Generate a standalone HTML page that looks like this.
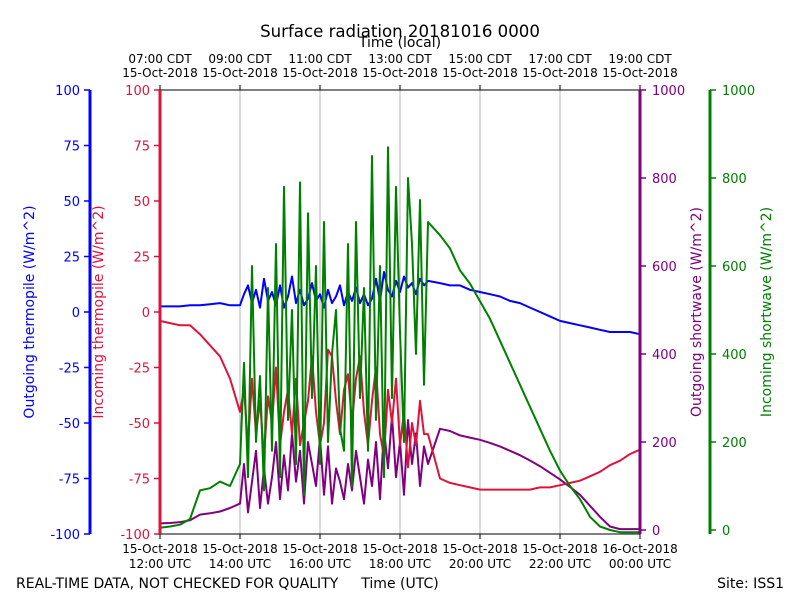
<!DOCTYPE html>
<html><head><meta charset="utf-8"><style>
body{margin:0;background:#fff}
svg{font-family:"DejaVu Sans","Liberation Sans",sans-serif}
</style></head><body>
<svg id="c" width="800" height="600" xmlns="http://www.w3.org/2000/svg">
<text x="400" y="37" font-size="16.6" text-anchor="middle">Surface radiation 20181016 0000</text>
<text x="400" y="47" font-size="14" text-anchor="middle">Time (local)</text>
<text x="16" y="588" font-size="14">REAL-TIME DATA, NOT CHECKED FOR QUALITY</text>
<text x="400" y="588" font-size="14" text-anchor="middle">Time (UTC)</text>
<text x="784" y="588" font-size="14" text-anchor="end">Site: ISS1</text>
<text transform="translate(34,312) rotate(-90)" font-size="14" fill="#0000ff" text-anchor="middle">Outgoing thermopile (W/m^2)</text>
<text transform="translate(103,312) rotate(-90)" font-size="14" fill="#dc143c" text-anchor="middle">Incoming thermopile (W/m^2)</text>
<text transform="translate(701,312) rotate(-90)" font-size="14" fill="#800080" text-anchor="middle">Outgoing shortwave (W/m^2)</text>
<text transform="translate(771,312) rotate(-90)" font-size="14" fill="#008000" text-anchor="middle">Incoming shortwave (W/m^2)</text>
<g id="grid"></g><g id="series"></g><g id="axes"></g>
</svg>
<script>
const tBefore=[12,12.25,12.5,12.75,13,13.25,13.5,13.75];
const greenBefore=[5,8,12,25,90,95,110,100];
const purpleBefore=[15,16,18,22,35,38,42,50];
const redBefore=[-4,-5,-6,-6,-10,-15,-20,-30];
const blueBefore=[2.5,2.5,2.5,3,3,3.5,4,3];
const greenMid=[150,380,120,600,200,350,90,550,180,650,120,780,250,500,150,790,80,720,300,600,150,700,200,400,500,230,180,650,100,700,300,550,180,850,250,600,120,870,300,780,450,200,800,650,400,750,330,700];
const purpleMid=[60,150,40,110,180,50,140,60,120,200,70,170,90,220,110,180,60,200,150,100,210,80,190,60,140,110,70,150,90,180,120,60,160,100,200,70,230,140,260,120,200,80,250,150,220,100,190,150];
const redMid=[-45,-35,-60,-30,-55,-40,-65,-38,-50,-25,-60,-45,-35,-55,-30,-60,-50,-40,-20,-45,-60,-50,-17,-20,-40,-55,-35,-28,-50,-30,-20,-45,-60,-40,-25,-55,-65,-35,-50,-30,-60,-45,-70,-50,-60,-40,-55,-55];
const blueMid=[3,8,12,4,10,2,15,5,9,3,12,2,7,16,4,10,3,6,13,5,8,2,10,4,7,12,3,9,5,11,4,8,3,6,15,5,18,10,7,14,9,16,11,13,8,15,12,14];
const greenAfter=[670,640,590,560,520,480,430,380,330,280,230,180,135,100,70,30,8,0,-5,-5,-5];
const purpleAfter=[230,225,215,210,205,198,190,180,170,158,145,130,115,98,80,55,30,8,2,2,2];
const redAfter=[-75,-77,-78,-79,-80,-80,-80,-80,-80,-80,-79,-79,-78,-77,-76,-74,-72,-69,-67,-64,-62];
const blueAfter=[13,12,12,10,9,8,7,5,4,2,0,-2,-4,-5,-6,-7,-8,-9,-9,-9,-10];
const leftTicks=[100,75,50,25,0,-25,-50,-75,-100];
const rightTicks=[0,200,400,600,800,1000];
const utcTicks=[12,14,16,18,20,22,24];
const utcLabels=[["15-Oct-2018","12:00 UTC"],["15-Oct-2018","14:00 UTC"],["15-Oct-2018","16:00 UTC"],["15-Oct-2018","18:00 UTC"],["15-Oct-2018","20:00 UTC"],["15-Oct-2018","22:00 UTC"],["16-Oct-2018","00:00 UTC"]];
const localLabels=[["07:00 CDT","15-Oct-2018"],["09:00 CDT","15-Oct-2018"],["11:00 CDT","15-Oct-2018"],["13:00 CDT","15-Oct-2018"],["15:00 CDT","15-Oct-2018"],["17:00 CDT","15-Oct-2018"],["19:00 CDT","15-Oct-2018"]];

const NS="http://www.w3.org/2000/svg";
const X0=160,X1=640,YT=90,YB=534;
const xs=t=>X0+(t-12)/12*(X1-X0);
const yl=v=>YT+(100-v)/200*(YB-YT);
const yr=v=>530-v*0.44;
function mk(tag,attrs,parent,text){const e=document.createElementNS(NS,tag);for(const k in attrs)e.setAttribute(k,attrs[k]);if(text!==undefined)e.textContent=text;parent.appendChild(e);return e;}
const times=[...tBefore];
for(let i=0;i<greenMid.length;i++)times.push(14+i*0.1);
for(let i=0;i<greenAfter.length;i++)times.push(19+i*0.25);
const grid=document.getElementById('grid'),ser=document.getElementById('series'),ax=document.getElementById('axes');
utcTicks.slice(1,-1).forEach(t=>{
 const g=mk('line',{x1:xs(t),x2:xs(t),y1:YT,y2:YB,stroke:'#b0b0b0','stroke-width':1},grid);
 
 
});
function series(vals,yf,color,name){
 const pts=vals.map((v,i)=>xs(times[i]).toFixed(1)+','+yf(v).toFixed(1)).join(' ');
 const p=mk('polyline',{points:pts,fill:'none',stroke:color,'stroke-width':2,'stroke-linejoin':'round'},ser);
 
 
}
series([...purpleBefore,...purpleMid,...purpleAfter],yr,'#800080','outgoing-shortwave-line');
series([...redBefore,...redMid,...redAfter],yl,'#dc143c','incoming-thermopile-line');
series([...blueBefore,...blueMid,...blueAfter],yl,'#0000ff','outgoing-thermopile-line');
series([...greenBefore,...greenMid,...greenAfter],yr,'#008000','incoming-shortwave-line');
mk('line',{x1:X0,x2:X1,y1:YT,y2:YT,stroke:'#000'},ax);
mk('line',{x1:X0,x2:X1,y1:YB,y2:YB,stroke:'#000'},ax);
const sp=[[90,'#0000ff','blue-axis-spine'],[160,'#dc143c','red-axis-spine'],[640,'#800080','purple-axis-spine'],[710,'#008000','green-axis-spine']];
sp.forEach(s=>{const l=mk('line',{x1:s[0],x2:s[0],y1:YT,y2:YB,stroke:s[1],'stroke-width':3},ax);});
leftTicks.forEach(v=>{
 const y=yl(v);
 mk('line',{x1:84,x2:90,y1:y,y2:y,stroke:'#0000ff','stroke-width':1.5},ax);
 const a=mk('text',{x:80,y:y+5,'font-size':13,fill:'#0000ff','text-anchor':'end'},ax,String(v));
 
 mk('line',{x1:154,x2:160,y1:y,y2:y,stroke:'#dc143c','stroke-width':1.5},ax);
 const b=mk('text',{x:150,y:y+5,'font-size':13,fill:'#dc143c','text-anchor':'end'},ax,String(v));
 
});
rightTicks.forEach(v=>{
 const y=yr(v);
 mk('line',{x1:640,x2:646,y1:y,y2:y,stroke:'#800080','stroke-width':1.5},ax);
 const a=mk('text',{x:652,y:y+5,'font-size':13,fill:'#800080'},ax,String(v));
 
 mk('line',{x1:710,x2:716,y1:y,y2:y,stroke:'#008000','stroke-width':1.5},ax);
 const b=mk('text',{x:722,y:y+5,'font-size':13,fill:'#008000'},ax,String(v));
 
});
utcTicks.forEach((t,i)=>{
 const x=xs(t);
 mk('line',{x1:x,x2:x,y1:YB,y2:YB+5,stroke:'#000'},ax);
 mk('line',{x1:x,x2:x,y1:YT-5,y2:YT,stroke:'#000'},ax);
 const a=mk('text',{x:x,y:553,'font-size':12,'text-anchor':'middle'},ax,utcLabels[i][0]);
 
 const b=mk('text',{x:x,y:568,'font-size':12,'text-anchor':'middle'},ax,utcLabels[i][1]);
 
 const c=mk('text',{x:x,y:63,'font-size':12,'text-anchor':'middle'},ax,localLabels[i][0]);
 
 const d=mk('text',{x:x,y:77,'font-size':12,'text-anchor':'middle'},ax,localLabels[i][1]);
 
});
</script>
</body></html>
